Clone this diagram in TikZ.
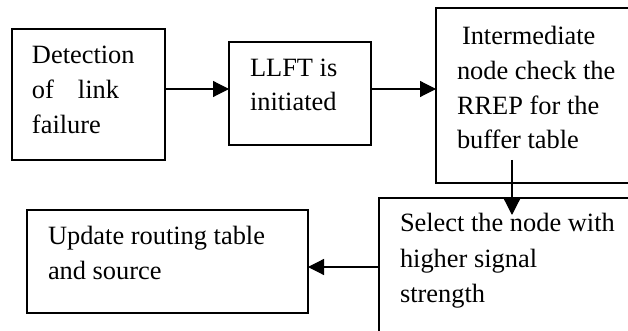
\documentclass[tikz,border=0pt]{standalone}
\usepackage{fontspec}
\setmainfont{Liberation Serif}
\usetikzlibrary{arrows.meta}
\begin{document}
\begin{tikzpicture}[x=0.5pt,y=-0.5pt,
  box/.style={draw, line width=0.6pt, inner sep=0pt, outer sep=0pt},
  txt/.style={anchor=base west, inner sep=0pt, outer sep=0pt, font=\fontsize{13.2}{16}\selectfont},
  conn/.style={line width=0.6pt, -{Triangle[length=8pt,width=8pt]}}]
\useasboundingbox (0,0) rectangle (628,331);
\clip (0,0) rectangle (628,331);
\fill[white] (0,0) rectangle (628,331);
% boxes
\node[box, minimum width=76.5pt, minimum height=65.5pt] (b1) at (88.5,94.5) {};
\node[box, minimum width=71pt, minimum height=51.5pt] (b2) at (300,93.5) {};
\node[box, minimum width=112pt, minimum height=87.5pt] (b3) at (548,95.5) {};
\node[box, minimum width=140.5pt, minimum height=81pt] (b4) at (519.5,279) {};
\node[box, minimum width=140.5pt, minimum height=51.5pt] (b5) at (167.5,261.5) {};
% texts
\node[txt] (t1a) at (32,63.3) {Detection};
\node[txt] (t1b) at (32,98.3) {of\hspace{12pt}link};
\node[txt] (t1c) at (32,133.3) {failure};
\node[txt] (t2a) at (250,77) {LLFT is};
\node[txt] (t2b) at (250,111) {initiated};
\node[txt] (t3a) at (462,44.3) {Intermediate};
\node[txt] (t3b) at (457,80) {node check the};
\node[txt] (t3c) at (457,114.3) {RREP for the};
\node[txt] (t3d) at (457,148.3) {buffer table};
\node[txt] (t4a) at (400,232) {Select the node with};
\node[txt] (t4b) at (400,267.7) {higher signal};
\node[txt] (t4c) at (400,302.7) {strength};
\node[txt] (t5a) at (48,245) {Update routing table};
\node[txt] (t5b) at (48,280) {and source};
% connectors
\coordinate (r1) at (0,89);
\coordinate (r4) at (0,267);
\coordinate (a3s) at (512,160);
\coordinate (a3e) at (512,215);
\draw[conn] (b1.east |- r1) -- (b2.west |- r1);
\draw[conn] (b2.east |- r1) -- (b3.west |- r1);
\draw[conn] (a3s) -- (a3e);
\draw[conn] (b4.west |- r4) -- (b5.east |- r4);
\end{tikzpicture}
\end{document}
